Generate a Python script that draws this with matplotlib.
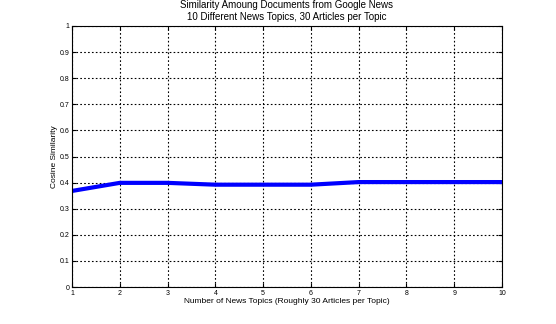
import numpy as np
import matplotlib
matplotlib.use('Agg')
import matplotlib.pyplot as plt

plt.rcParams['font.family'] = ['Liberation Sans', 'DejaVu Sans']

topics = [1, 2, 3, 4, 5, 6, 7, 8, 9, 10]
similarity = [0.368, 0.399, 0.399, 0.392, 0.392, 0.392, 0.402, 0.402, 0.402, 0.402]

fig = plt.figure(figsize=(5.56, 3.24), dpi=100)
ax = fig.add_axes([72/556, 1-287/324, 430/556, 261/324])

ax.plot(topics, similarity, color='#0000ff', linewidth=3)

ax.set_xlim(1, 10)
ax.set_ylim(0, 1)
ax.set_xticks(topics)
ax.set_yticks(np.arange(0, 1.01, 0.1))
ax.set_yticklabels(['0', '0.1', '0.2', '0.3', '0.4', '0.5', '0.6', '0.7', '0.8', '0.9', '1'])
ax.grid(True, color='black', linestyle=(0, (1.5, 2)), linewidth=0.8)
ax.tick_params(direction='in', labelsize=5, length=3, top=True, right=True, pad=2)
for s in ax.spines.values():
    s.set_linewidth(0.8)

ax.set_xlabel('Number of News Topics (Roughly 30 Articles per Topic)', fontsize=6, labelpad=1)
ax.set_ylabel('Cosine Similarity', fontsize=6, labelpad=1)
ax.set_title('Similarity Amoung Documents from Google News\n10 Different News Topics, 30 Articles per Topic',
             fontsize=7, pad=4, linespacing=1.3)

fig.savefig('out.png', dpi=100)
